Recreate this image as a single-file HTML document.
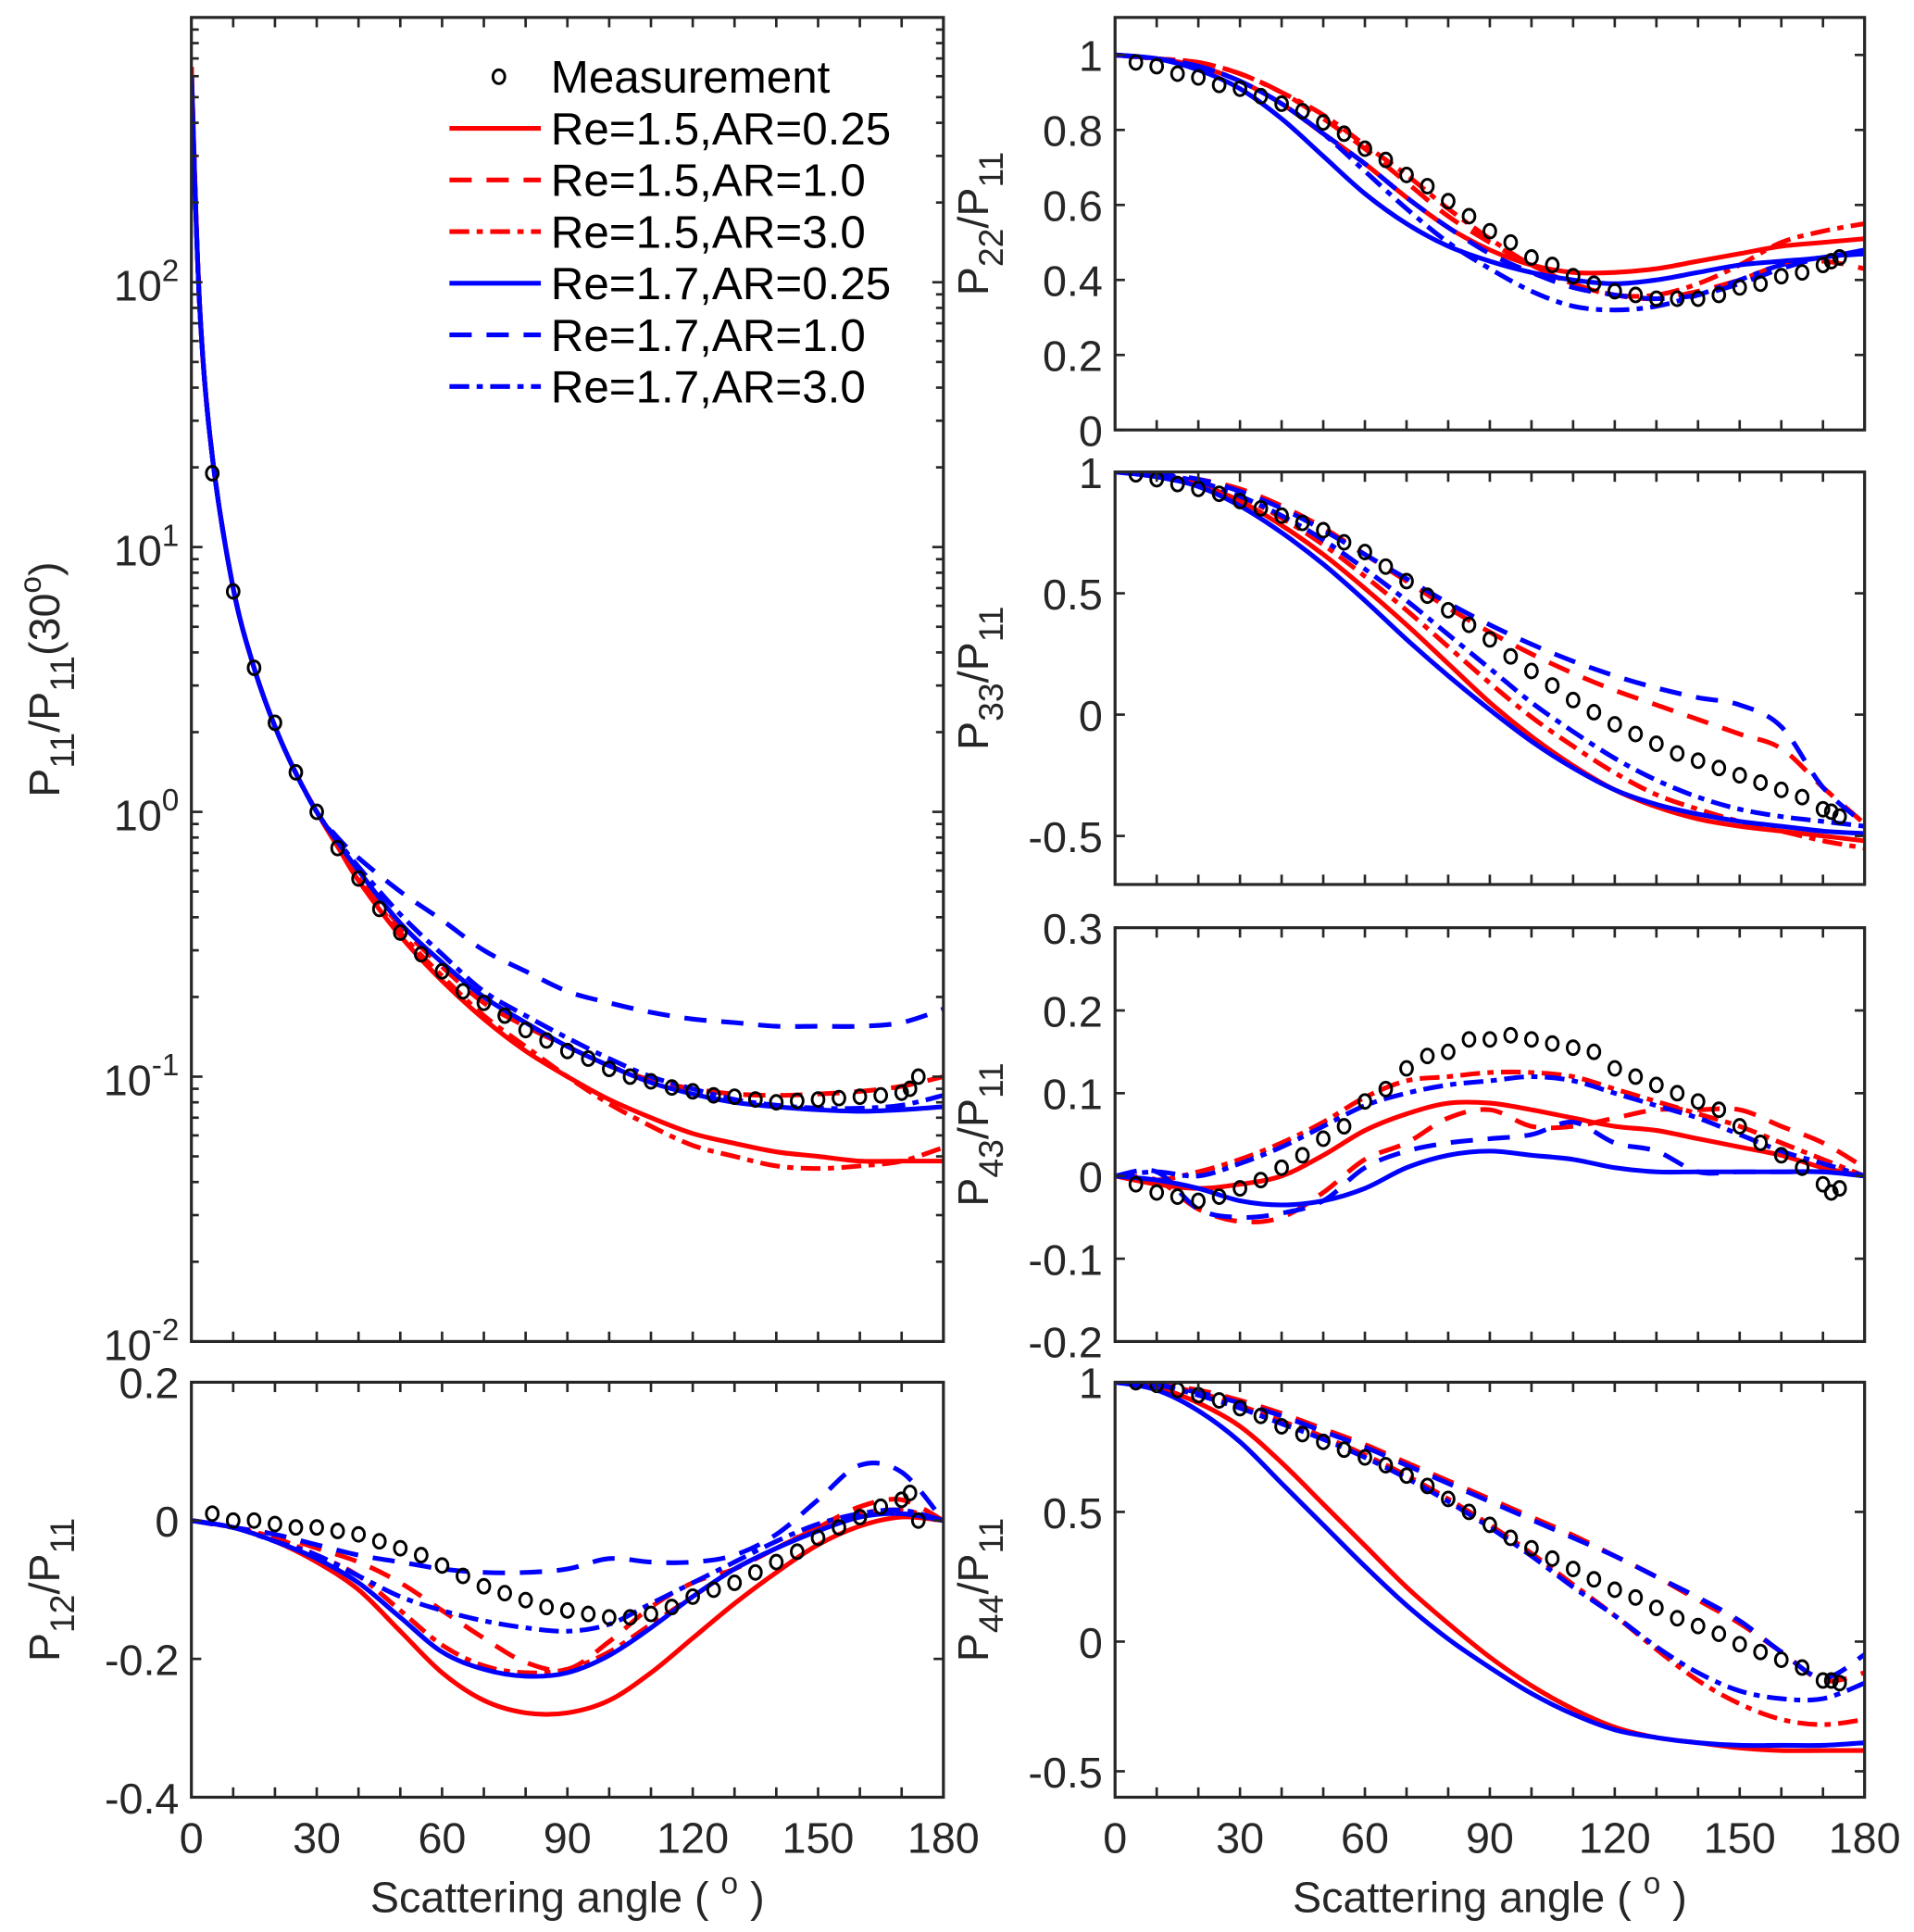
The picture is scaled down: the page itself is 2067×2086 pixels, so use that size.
<!DOCTYPE html>
<html><head><meta charset="utf-8">
<style>
html,body{margin:0;padding:0;background:#fff;}
svg{display:block;font-family:"Liberation Sans",Arial,sans-serif;}
</style></head>
<body>
<svg id="fig" width="2067" height="2086" viewBox="0 0 1550 1564" xmlns="http://www.w3.org/2000/svg">
<rect x="0" y="0" width="1550" height="1564" fill="#fff"/>
<g id="layer"></g>
</svg>
<script>
// ---- data ----
const angP11 = [0,2,5,10,15,20,25,30,35,40,50,60,70,80,90,100,110,120,130,140,150,160,170,180];
const ang = [0,10,20,30,40,50,60,70,80,90,100,110,120,130,140,150,160,170,180];
const mAng = [5,10,15,20,25,30,35,40,45,50,55,60,65,70,75,80,85,90,95,100,105,110,115,120,125,130,135,140,145,150,155,160,165,170,172,174];

const p11Meas = [19,6.8,3.5,2.17,1.41,1.0,0.73,0.56,0.43,0.35,0.29,0.25,0.21,0.19,0.17,0.15,0.137,0.125,0.117,0.107,0.1,0.096,0.091,0.088,0.085,0.084,0.082,0.08,0.081,0.082,0.083,0.084,0.085,0.087,0.09,0.1];
const p11_r025 = [650,80,22,7,3.5,2.1,1.4,1.0,0.74,0.55,0.34,0.23,0.165,0.125,0.1,0.082,0.07,0.061,0.056,0.052,0.05,0.048,0.048,0.048];
const p11_r10  = [650,80,22,7,3.5,2.1,1.4,1.0,0.76,0.58,0.37,0.26,0.19,0.155,0.13,0.11,0.097,0.09,0.086,0.085,0.086,0.088,0.092,0.1];
const p11_r30  = [650,80,22,7,3.5,2.1,1.4,1.0,0.74,0.56,0.35,0.24,0.17,0.13,0.1,0.079,0.065,0.055,0.05,0.046,0.045,0.046,0.048,0.054];
const p11_b025 = [600,80,22,7,3.5,2.1,1.4,1.0,0.77,0.6,0.38,0.27,0.2,0.16,0.13,0.11,0.095,0.086,0.08,0.077,0.075,0.074,0.075,0.077];
const p11_b10  = [600,80,22,7,3.5,2.1,1.4,1.0,0.8,0.67,0.5,0.39,0.3,0.25,0.21,0.19,0.175,0.165,0.16,0.155,0.155,0.155,0.16,0.18];
const p11_b30  = [600,80,22,7,3.5,2.1,1.4,1.0,0.78,0.62,0.41,0.29,0.21,0.17,0.14,0.117,0.1,0.09,0.082,0.078,0.076,0.076,0.078,0.085];

const p22Meas = [.98,.97,.95,.94,.92,.91,.89,.87,.85,.82,.79,.75,.72,.68,.65,.61,.57,.53,.5,.46,.44,.41,.39,.37,.36,.35,.35,.35,.36,.38,.39,.41,.42,.44,.45,.46];
const p22_r025 = [1,.99,.97,.93,.87,.79,.71,.62,.54,.48,.44,.42,.42,.43,.45,.47,.49,.5,.51];
const p22_r10  = [1,.99,.98,.95,.9,.83,.75,.66,.57,.5,.44,.39,.36,.35,.37,.4,.44,.45,.43];
const p22_r30  = [1,.99,.98,.95,.9,.84,.76,.68,.59,.51,.44,.39,.36,.36,.39,.44,.5,.53,.55];
const p22_b025 = [1,.99,.96,.91,.83,.73,.63,.55,.49,.45,.42,.4,.39,.4,.42,.44,.45,.46,.48];
const p22_b10  = [1,.99,.97,.93,.87,.79,.71,.62,.54,.47,.42,.38,.36,.35,.36,.39,.43,.46,.47];
const p22_b30  = [1,.99,.97,.93,.87,.79,.69,.59,.5,.43,.37,.33,.32,.33,.36,.4,.44,.46,.47];

const p33Meas = [.99,.97,.95,.93,.91,.88,.85,.82,.79,.76,.71,.67,.61,.55,.49,.43,.37,.31,.24,.18,.12,.06,.01,-.04,-.08,-.12,-.16,-.19,-.22,-.25,-.28,-.31,-.34,-.39,-.4,-.42];
const p33_r025 = [1,.99,.95,.88,.78,.66,.52,.37,.21,.05,-.09,-.21,-.31,-.38,-.43,-.46,-.48,-.5,-.52];
const p33_r10  = [1,.99,.97,.93,.86,.77,.66,.55,.44,.34,.25,.17,.1,.04,-.02,-.08,-.14,-.3,-.45];
const p33_r30  = [1,.99,.96,.9,.81,.7,.57,.43,.28,.13,-.01,-.13,-.24,-.33,-.39,-.44,-.48,-.52,-.55];
const p33_b025 = [1,.98,.94,.86,.75,.62,.47,.31,.16,.02,-.11,-.22,-.31,-.37,-.41,-.44,-.46,-.48,-.49];
const p33_b10  = [1,.99,.97,.92,.85,.76,.66,.56,.46,.37,.29,.22,.16,.11,.07,.04,-.05,-.3,-.45];
const p33_b30  = [1,.99,.96,.9,.82,.72,.6,.47,.33,.19,.05,-.07,-.18,-.27,-.34,-.39,-.42,-.44,-.46];

const p43Meas = [-.01,-.02,-.025,-.03,-.025,-.015,-.005,.01,.025,.045,.06,.09,.105,.13,.145,.15,.165,.165,.17,.165,.16,.155,.15,.13,.12,.11,.1,.09,.08,.06,.04,.025,.01,-.01,-.02,-.015];
const p43_r025 = [0,-.01,-.015,-.01,0,.025,.055,.075,.088,.088,.08,.07,.06,.055,.045,.035,.025,.01,0];
const p43_r10  = [0,-.005,-.04,-.055,-.05,-.02,.02,.04,.07,.08,.06,.06,.07,.08,.08,.08,.06,.04,.01];
const p43_r30  = [0,-.005,.005,.02,.04,.065,.095,.115,.12,.125,.125,.12,.105,.09,.075,.06,.04,.02,0];
const p43_b025 = [0,-.005,-.015,-.03,-.035,-.03,-.015,.01,.025,.03,.025,.02,.01,.005,.005,.005,.005,.005,0];
const p43_b10  = [0,.005,-.04,-.05,-.045,-.03,.01,.03,.04,.045,.05,.065,.04,.03,.005,.005,.005,.005,0];
const p43_b30  = [0,.005,0,.015,.035,.06,.085,.1,.11,.115,.12,.115,.1,.085,.07,.05,.03,.015,0];

const p44Meas = [1,.99,.97,.95,.93,.9,.87,.83,.8,.77,.74,.71,.68,.64,.6,.55,.5,.45,.4,.36,.32,.28,.24,.2,.17,.13,.09,.06,.03,-.01,-.04,-.07,-.1,-.15,-.15,-.16];
const p44_r025 = [1,.98,.92,.83,.69,.53,.37,.21,.07,-.06,-.17,-.26,-.33,-.37,-.39,-.41,-.42,-.42,-.42];
const p44_r10  = [1,.99,.97,.93,.88,.82,.76,.69,.62,.55,.48,.41,.33,.25,.16,.07,-.04,-.15,-.12];
const p44_r30  = [1,.99,.96,.91,.85,.79,.72,.64,.55,.45,.34,.22,.1,-.03,-.15,-.24,-.3,-.32,-.3];
const p44_b025 = [1,.97,.89,.77,.61,.45,.29,.14,.01,-.1,-.2,-.28,-.34,-.37,-.39,-.4,-.4,-.4,-.39];
const p44_b10  = [1,.99,.96,.92,.87,.81,.75,.68,.61,.54,.47,.4,.33,.25,.17,.08,-.04,-.14,-.05];
const p44_b30  = [1,.99,.95,.9,.84,.78,.71,.63,.54,.44,.33,.21,.1,-.02,-.12,-.19,-.22,-.22,-.16];

const p12Meas = [.01,0,0,-.005,-.01,-.01,-.015,-.02,-.03,-.04,-.05,-.065,-.08,-.095,-.105,-.115,-.125,-.13,-.135,-.14,-.14,-.135,-.125,-.11,-.1,-.09,-.075,-.06,-.045,-.025,-.01,.005,.02,.03,.04,0];
const p12_r025 = [0,-.01,-.03,-.06,-.1,-.16,-.22,-.26,-.278,-.278,-.26,-.22,-.17,-.12,-.075,-.035,-.008,.005,0];
const p12_r10  = [0,-.01,-.02,-.04,-.06,-.09,-.13,-.17,-.205,-.215,-.175,-.125,-.09,-.07,-.04,-.01,.02,.03,0];
const p12_r30  = [0,-.01,-.025,-.05,-.08,-.13,-.18,-.21,-.22,-.215,-.19,-.15,-.11,-.07,-.04,-.01,.01,.015,0];
const p12_b025 = [0,-.01,-.03,-.055,-.09,-.14,-.19,-.215,-.225,-.22,-.195,-.155,-.11,-.07,-.04,-.015,.005,.01,0];
const p12_b10  = [0,-.01,-.02,-.035,-.05,-.06,-.07,-.075,-.075,-.07,-.055,-.06,-.06,-.05,-.02,.03,.08,.07,0];
const p12_b30  = [0,-.01,-.03,-.05,-.08,-.11,-.13,-.145,-.155,-.16,-.15,-.12,-.09,-.06,-.03,-.005,.01,.015,0];

const xTickLabels = ["0","30","60","90","120","150","180"];
const legendLabels = ["Measurement","Re=1.5,AR=0.25","Re=1.5,AR=1.0","Re=1.5,AR=3.0","Re=1.7,AR=0.25","Re=1.7,AR=1.0","Re=1.7,AR=3.0"];

// ---- drawing ----
const NS = "http://www.w3.org/2000/svg";
const layer = document.getElementById('layer');
function el(tag, attrs, parent){
  const e = document.createElementNS(NS, tag);
  for (const k in attrs) e.setAttribute(k, attrs[k]);
  (parent||layer).appendChild(e);
  return e;
}
const RED = "#ff0000", BLUE = "#0000ff";
const LW = 3.8;
const styles = [
  {c:RED, d:null}, {c:RED, d:"18,12"}, {c:RED, d:"16,6,5,6"},
  {c:BLUE, d:null}, {c:BLUE, d:"18,12"}, {c:BLUE, d:"16,6,5,6"}
];
function smoothPath(pts){
  let d = "M" + pts[0][0].toFixed(2) + "," + pts[0][1].toFixed(2);
  for (let i=0;i<pts.length-1;i++){
    const p0 = pts[Math.max(0,i-1)], p1 = pts[i], p2 = pts[i+1], p3 = pts[Math.min(pts.length-1,i+2)];
    const c1 = [p1[0]+(p2[0]-p0[0])/6, p1[1]+(p2[1]-p0[1])/6];
    const c2 = [p2[0]-(p3[0]-p1[0])/6, p2[1]-(p3[1]-p1[1])/6];
    d += " C"+c1[0].toFixed(2)+","+c1[1].toFixed(2)+" "+c2[0].toFixed(2)+","+c2[1].toFixed(2)+" "+p2[0].toFixed(2)+","+p2[1].toFixed(2);
  }
  return d;
}
const FS = 35;
function panel(cfg){
  const g = el('g', {});
  
  
  const {x0,x1,y0,y1,vmin,vmax,log} = cfg;
  const X = a => x0 + (a/180)*(x1-x0);
  const Y = v => log ? y1 - (Math.log10(v)-Math.log10(vmin))/(Math.log10(vmax)-Math.log10(vmin))*(y1-y0)
                     : y1 - (v-vmin)/(vmax-vmin)*(y1-y0);
  const clip = el('clipPath', {id:'clip-'+cfg.name}, g);
  el('rect', {x:x0, y:y0, width:x1-x0, height:y1-y0}, clip);
  const plot = el('g', {'clip-path':'url(#clip-'+cfg.name+')'}, g);
  cfg.series.forEach((s, i) => {
    const pts = cfg.lineAng.map((a, j) => [X(a), Y(s[j])]);
    const p = el('path', {d:smoothPath(pts), fill:'none', stroke:styles[i].c, 'stroke-width':LW, 'stroke-linejoin':'round'}, plot);
    if (styles[i].d) p.setAttribute('stroke-dasharray', styles[i].d);
    
    
  });
  mAng.forEach((a, j) => {
    const c = el('ellipse', {cx:X(a), cy:Y(cfg.meas[j]), rx:4.8, ry:5.6, fill:'none', stroke:'#000', 'stroke-width':2.2}, plot);
    
    
  });
  const box = el('rect', {x:x0, y:y0, width:x1-x0, height:y1-y0, fill:'none', stroke:'#262626', 'stroke-width':2.4}, g);
  
  
  const tl = 8;
  for (let a=10; a<180; a+=10){
    el('line', {x1:X(a), x2:X(a), y1:y1, y2:y1-tl, stroke:'#262626','stroke-width':2}, g);
    el('line', {x1:X(a), x2:X(a), y1:y0, y2:y0+tl, stroke:'#262626','stroke-width':2}, g);
  }
  if (cfg.xlabels){
    xTickLabels.forEach((t, i) => {
      const tx = el('text', {x:X(i*30), y:y1+45, 'text-anchor':'middle', 'font-size':FS, fill:'#262626'}, g);
      tx.textContent = t;
      
      
    });
    const tt = el('text', {x:(x0+x1)/2, y:y1+93, 'text-anchor':'middle', 'font-size':FS, fill:'#262626'}, g);
    tt.innerHTML = 'Scattering angle ( <tspan dy="-15" font-size="25">o</tspan><tspan dy="15"> )</tspan>';
    
    
  }
  if (log){
    for (let e=Math.log10(vmin); e<Math.log10(vmax); e++){
      for (let m=1; m<10; m++){
        const v = m*Math.pow(10,e); const yy = Y(v);
        const len = m===1 ? 9 : 6;
        if (m>1 || e>Math.log10(vmin)){
          el('line', {x1:x0, x2:x0+len, y1:yy, y2:yy, stroke:'#262626','stroke-width':2}, g);
          el('line', {x1:x1, x2:x1-len, y1:yy, y2:yy, stroke:'#262626','stroke-width':2}, g);
        }
      }
      if (e < Math.log10(vmax)-0.5){
        const t = el('text', {x:x0-10, y:Y(Math.pow(10,e))+15, 'text-anchor':'end', 'font-size':FS, fill:'#262626'}, g);
        t.innerHTML = '10<tspan dy="-16" font-size="25">' + e + '</tspan>';
        
        
      }
    }
  } else {
    cfg.yticks.forEach(v => {
      const yy = Y(v);
      el('line', {x1:x0, x2:x0+tl, y1:yy, y2:yy, stroke:'#262626','stroke-width':2}, g);
      el('line', {x1:x1, x2:x1-tl, y1:yy, y2:yy, stroke:'#262626','stroke-width':2}, g);
      const t = el('text', {x:x0-10, y:yy+13, 'text-anchor':'end', 'font-size':FS, fill:'#262626'}, g);
      t.textContent = String(v);
      
      
    });
  }
  const lx = cfg.labelX, ly = (y0+y1)/2;
  const yl = el('text', {x:lx, y:ly, 'text-anchor':'middle', 'font-size':FS, fill:'#262626', transform:'rotate(-90 '+lx+' '+ly+')'}, g);
  yl.innerHTML = cfg.ylabel;
  
  
}
const sub = s => '<tspan dy="12" font-size="28">'+s+'</tspan><tspan dy="-12">';
const lab = n => 'P' + sub(n) + '/P</tspan>' + sub('11') + '</tspan>';

const LX0=155, LX1=764, RX0=903, RX1=1510;
panel({name:'p11-panel', x0:LX0,x1:LX1,y0:14,y1:1086,vmin:0.01,vmax:1000,log:true,lineAng:angP11,
  series:[p11_r025,p11_r10,p11_r30,p11_b025,p11_b10,p11_b30], meas:p11Meas, labelX:48,
  ylabel:'P'+sub('11')+'/P</tspan>'+sub('11')+'(30<tspan dy="-15" font-size="25">o</tspan><tspan dy="15">)</tspan></tspan>'});
panel({name:'p12-panel', x0:LX0,x1:LX1,y0:1119,y1:1455,vmin:-0.4,vmax:0.2,lineAng:ang,
  series:[p12_r025,p12_r10,p12_r30,p12_b025,p12_b10,p12_b30], meas:p12Meas, yticks:[-0.4,-0.2,0,0.2], labelX:48, ylabel:lab('12'), xlabels:true});
panel({name:'p22-panel', x0:RX0,x1:RX1,y0:14,y1:348,vmin:0,vmax:1.1,lineAng:ang,
  series:[p22_r025,p22_r10,p22_r30,p22_b025,p22_b10,p22_b30], meas:p22Meas, yticks:[0,0.2,0.4,0.6,0.8,1], labelX:800, ylabel:lab('22')});
panel({name:'p33-panel', x0:RX0,x1:RX1,y0:382,y1:716,vmin:-0.7,vmax:1,lineAng:ang,
  series:[p33_r025,p33_r10,p33_r30,p33_b025,p33_b10,p33_b30], meas:p33Meas, yticks:[-0.5,0,0.5,1], labelX:800, ylabel:lab('33')});
panel({name:'p43-panel', x0:RX0,x1:RX1,y0:751,y1:1086,vmin:-0.2,vmax:0.3,lineAng:ang,
  series:[p43_r025,p43_r10,p43_r30,p43_b025,p43_b10,p43_b30], meas:p43Meas, yticks:[-0.2,-0.1,0,0.1,0.2,0.3], labelX:800, ylabel:lab('43')});
panel({name:'p44-panel', x0:RX0,x1:RX1,y0:1119,y1:1455,vmin:-0.6,vmax:1,lineAng:ang,
  series:[p44_r025,p44_r10,p44_r30,p44_b025,p44_b10,p44_b30], meas:p44Meas, yticks:[-0.5,0,0.5,1], labelX:800, ylabel:lab('44'), xlabels:true});

const lg = el('g', {});


legendLabels.forEach((t, i) => {
  const yy = 62 + i*41.8;
  const e = el('g', {}, lg);
  
  
  if (i===0){
    el('ellipse', {cx:404, cy:yy, rx:4.8, ry:5.6, fill:'none', stroke:'#000','stroke-width':2.2}, e);
  } else {
    const s = styles[i-1];
    const ln = el('line', {x1:364, x2:438, y1:yy, y2:yy, stroke:s.c, 'stroke-width':LW}, e);
    if (s.d) ln.setAttribute('stroke-dasharray', s.d);
  }
  const tx = el('text', {x:446, y:yy+13, 'font-size':37, fill:'#000'}, e);
  tx.textContent = t;
});
</script>
</body></html>
